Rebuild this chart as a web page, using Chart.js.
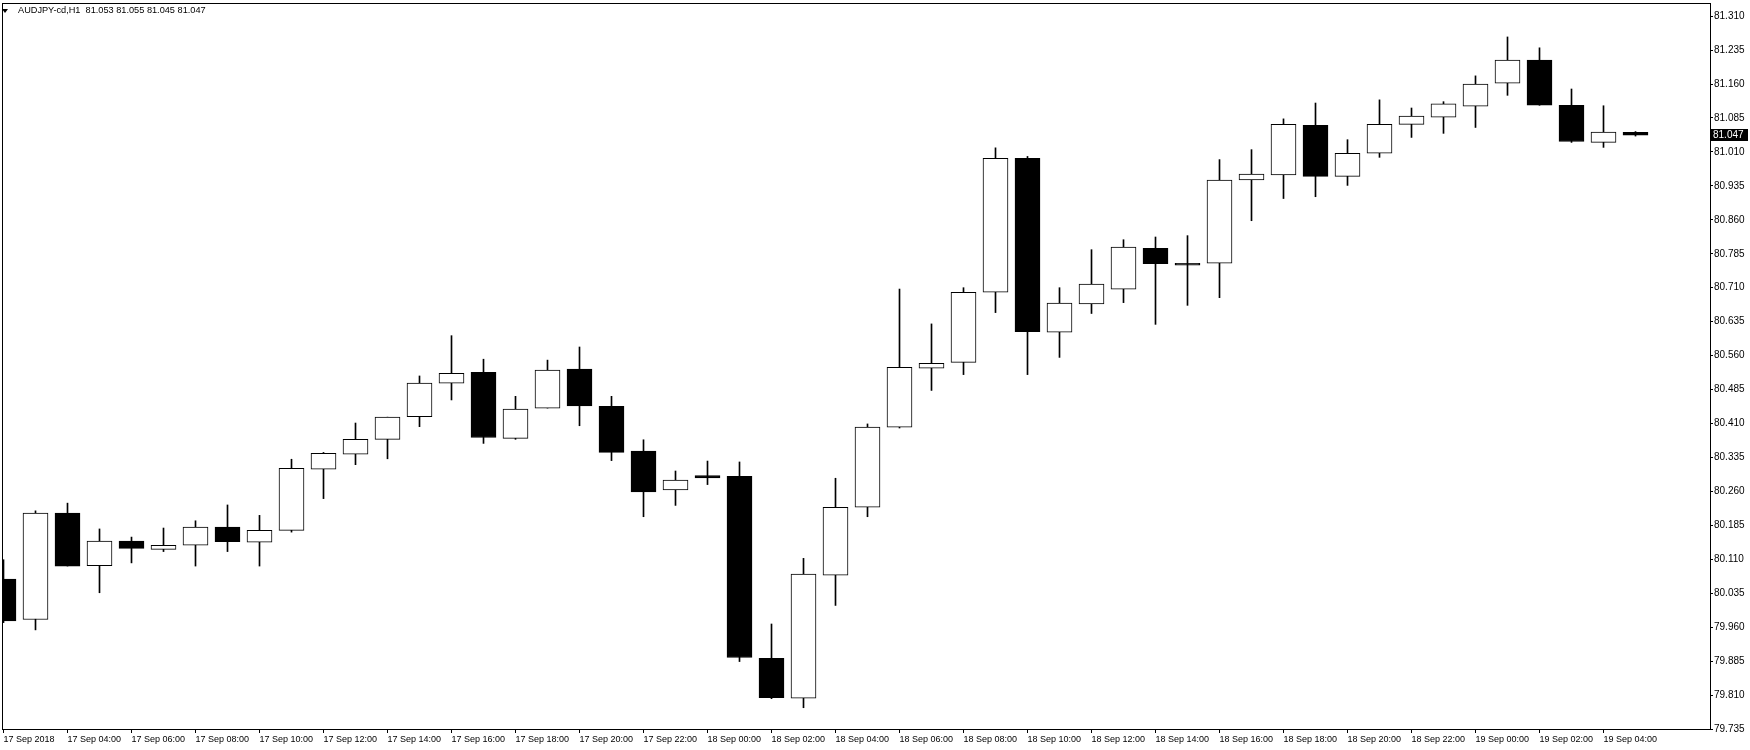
<!DOCTYPE html>
<html><head><meta charset="utf-8">
<script src="https://cdn.jsdelivr.net/npm/chart.js@4.4.0/dist/chart.umd.min.js"></script>
<style>
html,body{margin:0;padding:0;background:#fff;}
#wrap{position:relative;width:1750px;height:750px;overflow:hidden;}
#title{position:absolute;left:18px;top:5px;font-family:"Liberation Sans",Arial,sans-serif;font-size:9.2px;line-height:11px;white-space:pre;color:#000;}
#tri{position:absolute;left:2px;top:9px;width:0;height:0;border-left:3px solid transparent;border-right:3px solid transparent;border-top:4px solid #000;}
canvas{display:block;}
</style></head><body>
<div id="wrap"><canvas id="c" width="1750" height="750"></canvas><div id="tri"></div><div id="title"></div></div>
<script>
const symbol = 'AUDJPY-cd,H1';
const times = ['17 Sep 02:00','17 Sep 03:00','17 Sep 04:00','17 Sep 05:00','17 Sep 06:00','17 Sep 07:00','17 Sep 08:00','17 Sep 09:00','17 Sep 10:00','17 Sep 11:00','17 Sep 12:00','17 Sep 13:00','17 Sep 14:00','17 Sep 15:00','17 Sep 16:00','17 Sep 17:00','17 Sep 18:00','17 Sep 19:00','17 Sep 20:00','17 Sep 21:00','17 Sep 22:00','17 Sep 23:00','18 Sep 00:00','18 Sep 01:00','18 Sep 02:00','18 Sep 03:00','18 Sep 04:00','18 Sep 05:00','18 Sep 06:00','18 Sep 07:00','18 Sep 08:00','18 Sep 09:00','18 Sep 10:00','18 Sep 11:00','18 Sep 12:00','18 Sep 13:00','18 Sep 14:00','18 Sep 15:00','18 Sep 16:00','18 Sep 17:00','18 Sep 18:00','18 Sep 19:00','18 Sep 20:00','18 Sep 21:00','18 Sep 22:00','18 Sep 23:00','19 Sep 00:00','19 Sep 01:00','19 Sep 02:00','19 Sep 03:00','19 Sep 04:00','19 Sep 05:00'];
const opens  = [80.066,79.977,80.212,80.096,80.150,80.132,80.141,80.181,80.148,80.174,80.309,80.342,80.375,80.425,80.499,80.523,80.377,80.444,80.530,80.448,80.349,80.263,80.295,80.293,79.891,79.803,80.075,80.225,80.402,80.532,80.545,80.700,80.996,80.612,80.674,80.707,80.797,80.764,80.764,80.948,80.959,81.069,80.956,81.007,81.071,81.087,81.111,81.162,81.213,81.113,81.031,81.053];
const highs  = [80.109,80.217,80.234,80.177,80.159,80.179,80.195,80.230,80.207,80.331,80.346,80.411,80.424,80.515,80.604,80.552,80.470,80.550,80.579,80.470,80.374,80.305,80.327,80.325,79.967,80.112,80.289,80.409,80.707,80.630,80.710,81.019,81.000,80.710,80.794,80.816,80.822,80.825,80.993,81.015,81.083,81.118,81.037,81.125,81.107,81.121,81.178,81.264,81.240,81.149,81.112,81.055];
const lows   = [79.970,79.954,80.095,80.036,80.102,80.127,80.095,80.127,80.095,80.170,80.244,80.319,80.332,80.403,80.462,80.366,80.375,80.444,80.405,80.328,80.204,80.229,80.275,79.884,79.802,79.782,80.008,80.204,80.400,80.483,80.518,80.655,80.518,80.556,80.653,80.677,80.629,80.671,80.688,80.858,80.907,80.911,80.936,80.998,81.042,81.051,81.064,81.135,81.113,81.031,81.020,81.045];
const closes = [79.974,80.212,80.095,80.150,80.134,80.141,80.181,80.149,80.174,80.311,80.344,80.375,80.424,80.499,80.521,80.379,80.442,80.528,80.449,80.346,80.259,80.285,80.290,79.893,79.804,80.077,80.225,80.402,80.534,80.543,80.700,80.996,80.613,80.676,80.718,80.800,80.763,80.760,80.948,80.961,81.071,80.956,81.007,81.071,81.089,81.116,81.160,81.213,81.113,81.033,81.054,81.047];
const yTicks = [79.735,79.810,79.885,79.960,80.035,80.110,80.185,80.260,80.335,80.410,80.485,80.560,80.635,80.710,80.785,80.860,80.935,81.010,81.085,81.160,81.235,81.310];
const xTickIdx = [0,2,4,6,8,10,12,14,16,18,20,22,24,26,28,30,32,34,36,38,40,42,44,46,48,50];
const xTickLabels = ['17 Sep 2018','17 Sep 04:00','17 Sep 06:00','17 Sep 08:00','17 Sep 10:00','17 Sep 12:00','17 Sep 14:00','17 Sep 16:00','17 Sep 18:00','17 Sep 20:00','17 Sep 22:00','18 Sep 00:00','18 Sep 02:00','18 Sep 04:00','18 Sep 06:00','18 Sep 08:00','18 Sep 10:00','18 Sep 12:00','18 Sep 14:00','18 Sep 16:00','18 Sep 18:00','18 Sep 20:00','18 Sep 22:00','19 Sep 00:00','19 Sep 02:00','19 Sep 04:00'];

const last = closes.length - 1;
document.getElementById('title').textContent =
  symbol + '  ' + [opens[last], highs[last], lows[last], closes[last]].map(v => v.toFixed(3)).join(' ');

const bodyData = times.map((t, i) => ({x: i, y: [Math.min(opens[i], closes[i]), Math.max(opens[i], closes[i])]}));
const wickData = times.map((t, i) => ({x: i, y: [lows[i], highs[i]]}));
const bodyFill = times.map((t, i) => closes[i] < opens[i] ? '#000000' : '#ffffff');

const FONT = '"Liberation Sans", Arial, sans-serif';

const framePlugin = {
  id: 'frame',
  afterDraw(chart) {
    const {ctx, chartArea: a} = chart;
    ctx.save();
    ctx.strokeStyle = '#000';
    ctx.lineWidth = 1;
    ctx.strokeRect(a.left + 0.5, a.top + 0.5, a.right - a.left, a.bottom - a.top);
    // current price label
    const y = chart.scales.y.getPixelForValue(closes[last]);
    ctx.fillStyle = '#000';
    ctx.fillRect(a.right + 1, Math.round(y) - 6, 37, 12);
    ctx.fillStyle = '#fff';
    ctx.font = '10px ' + FONT;
    ctx.textBaseline = 'middle';
    ctx.textAlign = 'left';
    ctx.fillText(closes[last].toFixed(3), a.right + 3, Math.round(y));
    ctx.restore();
  }
};

new Chart(document.getElementById('c'), {
  type: 'bar',
  data: {
    datasets: [
      {label: 'body', data: bodyData, backgroundColor: bodyFill, borderColor: '#000', borderWidth: 1,
       borderSkipped: false, barThickness: 25, grouped: false, order: 0},
      {label: 'wick', data: wickData, backgroundColor: '#000', borderWidth: 0,
       barThickness: 1, grouped: false, order: 1}
    ]
  },
  options: {
    responsive: false,
    animation: false,
    devicePixelRatio: 1,
    layout: {padding: {left: 2, top: 3, right: 0, bottom: 0}},
    plugins: {legend: {display: false}, tooltip: {enabled: false}, title: {display: false}},
    scales: {
      x: {
        type: 'linear', min: -0.046875, max: 53.328125, position: 'bottom', offset: false,
        grid: {drawOnChartArea: false, drawTicks: true, tickLength: 4, color: '#000', lineWidth: 1, offset: false},
        border: {display: false},
        afterBuildTicks: s => { s.ticks = xTickIdx.map(v => ({value: v})); },
        afterFit: s => { s.height = 21; s.paddingLeft = 0; s.paddingRight = 0; },
        ticks: {autoSkip: false, maxRotation: 0, minRotation: 0, align: 'start', padding: 1, color: '#000',
                font: {family: FONT, size: 9},
                callback: (v) => xTickLabels[xTickIdx.indexOf(v)]}
      },
      y: {
        type: 'linear', position: 'right', min: 79.735, max: 81.339,
        grid: {drawOnChartArea: false, drawTicks: true, tickLength: 3, color: '#000', lineWidth: 1},
        border: {display: false},
        afterBuildTicks: s => { s.ticks = yTicks.map(v => ({value: v})); },
        afterFit: s => { s.width = 40; s.paddingTop = 0; s.paddingBottom = 0; },
        ticks: {padding: 1, color: '#000', font: {family: FONT, size: 10}, callback: v => v.toFixed(3)}
      }
    }
  },
  plugins: [framePlugin]
});
</script>
</body></html>
